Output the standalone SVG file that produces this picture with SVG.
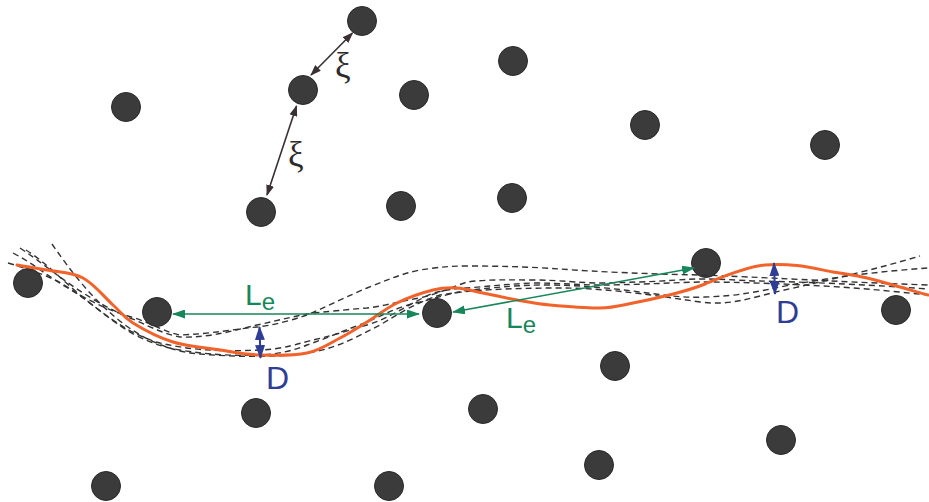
<svg xmlns="http://www.w3.org/2000/svg" width="929" height="502" viewBox="0 0 929 502">
<style>
.dot{fill:#3c3b3c;stroke:#2a2929;stroke-width:1}
.dash{fill:none;stroke:#333;stroke-width:1.4;stroke-dasharray:6 4}
.orange{fill:none;stroke:#f1632a;stroke-width:3;stroke-linejoin:round;stroke-linecap:round}
.green{fill:none;stroke:#17875b;stroke-width:1.6}
.blue{fill:none;stroke:#2f3d94;stroke-width:2}
.xi{fill:none;stroke:#3a3034;stroke-width:1.6}
.lbl-g{fill:#17875b;font-family:"Liberation Sans",Arial,sans-serif}
.lbl-b{fill:#2f3d94;font-family:"Liberation Sans",Arial,sans-serif;font-size:32px}
.lbl-x{fill:#2e2a2c;font-family:"Liberation Serif","DejaVu Serif",serif;font-size:35px}
</style>
<defs>
<marker id="mg" viewBox="0 0 13 9" refX="12" refY="4.5" markerWidth="13" markerHeight="9" markerUnits="userSpaceOnUse" orient="auto-start-reverse"><path d="M0,0 L13,4.5 L0,9 z" fill="#17875b"/></marker>
<marker id="mb" viewBox="0 0 14 10" refX="13" refY="5" markerWidth="14" markerHeight="10" markerUnits="userSpaceOnUse" orient="auto-start-reverse"><path d="M0,0 L14,5 L0,10 z" fill="#2f3d94"/></marker>
<marker id="mx" viewBox="0 0 11 8" refX="10" refY="4" markerWidth="11" markerHeight="8" markerUnits="userSpaceOnUse" orient="auto-start-reverse"><path d="M0,0 L11,4 L0,8 z" fill="#3a3034"/></marker>
</defs>
<rect width="929" height="502" fill="#fff"/>

<g id="dots">
<g id="n1"><circle class="dot" cx="362" cy="21" r="14.5"/></g>
<g id="n2"><circle class="dot" cx="303" cy="90" r="14.5"/></g>
<g id="n3"><circle class="dot" cx="126" cy="107" r="14.5"/></g>
<g id="n4"><circle class="dot" cx="414" cy="95" r="14.5"/></g>
<g id="n5"><circle class="dot" cx="513" cy="61" r="14.5"/></g>
<g id="n6"><circle class="dot" cx="645" cy="125" r="14.5"/></g>
<g id="n7"><circle class="dot" cx="825" cy="145" r="14.5"/></g>
<g id="n8"><circle class="dot" cx="261" cy="212" r="14.5"/></g>
<g id="n9"><circle class="dot" cx="401" cy="206" r="14.5"/></g>
<g id="n10"><circle class="dot" cx="512" cy="198" r="14.5"/></g>
<g id="n11"><circle class="dot" cx="28" cy="283" r="14.5"/></g>
<g id="n12"><circle class="dot" cx="157" cy="312" r="14.5"/></g>
<g id="n13"><circle class="dot" cx="437" cy="313" r="14.5"/></g>
<g id="n14"><circle class="dot" cx="706" cy="263" r="14.5"/></g>
<g id="n15"><circle class="dot" cx="896" cy="310" r="14.5"/></g>
<g id="n16"><circle class="dot" cx="615" cy="366" r="14.5"/></g>
<g id="n17"><circle class="dot" cx="256" cy="413" r="14.5"/></g>
<g id="n18"><circle class="dot" cx="483" cy="409" r="14.5"/></g>
<g id="n19"><circle class="dot" cx="781" cy="440" r="14.5"/></g>
<g id="n20"><circle class="dot" cx="106" cy="486" r="14.5"/></g>
<g id="n21"><circle class="dot" cx="389" cy="486" r="14.5"/></g>
<g id="n22"><circle class="dot" cx="599" cy="465" r="14.5"/></g>
</g>

<g id="paths">
<path class="dash" d="M52,244 C70,270 92,300 125,325 C150,343 175,352 200,354 C235,357 280,358 313,352 C340,347 360,335 380,325 C400,313 415,303 440,295 C470,290 510,288 560,288 C600,288 640,293 700,302 C730,306 750,298 780,291 C830,280 880,268 920,256"/>
<path class="dash" d="M8,263 C25,268 40,273 55,280 C80,292 105,318 135,335 C155,345 168,348 180,350 C210,355 235,356 260,355 C280,354 295,350 307,345 C330,337 350,328 367,322 C385,314 400,306 420,302 C440,297 455,292 470,290 C500,287 520,285 545,285 C580,285 610,288 640,292 C670,296 685,298 705,297 C740,296 760,291 790,285 C840,276 885,271 928,268"/>
<path class="dash" d="M20,248 C35,258 45,266 60,277 C82,293 105,308 135,320 C152,328 168,335 180,337 C210,338 235,330 257,325 C280,320 295,316 313,313 C335,311 352,309 367,308 C385,306 400,301 420,298 C440,293 455,286 467,282 C490,279 510,280 533,280 C560,280 580,283 600,283 C620,283 630,282 640,282 C670,281 685,279 700,279 C730,279 745,281 760,281 C800,282 860,284 928,289"/>
<path class="dash" d="M13,253 C30,262 40,270 55,280 C78,295 105,310 135,318 C152,324 168,333 180,335 C210,334 235,329 257,327 C275,325 292,320 307,315 C330,305 350,295 367,288 C385,281 400,274 420,270 C440,267 450,266 467,266 C500,266 533,267 560,269 C600,272 650,274 700,275 C760,277 840,282 928,285"/>
<path class="dash" d="M26,250 C45,262 60,278 80,295 C105,315 130,335 160,343 C190,350 220,352 260,350 C285,349 300,343 313,340 C335,335 350,330 367,325 C390,318 405,306 433,293 C450,289 460,288 467,288 C490,286 510,284 533,283 C560,283 580,285 600,285 C630,285 665,283 700,282 C740,282 790,284 840,287 C870,289 900,292 928,295"/>
<path class="orange" d="M17,265 C22,265.8 36,267.8 47,270 C58,272.2 72,272.2 83,278 C94,283.8 104.7,297.5 113,305 C121.3,312.5 123,316.8 133,323 C143,329.2 158.5,337.5 173,342 C187.5,346.5 205.5,347.8 220,350 C234.5,352.2 245.5,354.5 260,355 C274.5,355.5 293.7,355.8 307,353 C320.3,350.2 330,343.2 340,338 C350,332.8 357.5,327.8 367,322 C376.5,316.2 386,308.3 397,303 C408,297.7 423,292.5 433,290 C443,287.5 448.7,287.5 457,288 C465.3,288.5 473,291 483,293 C493,295 505.8,298 517,300 C528.2,302 536.2,303.7 550,305 C563.8,306.3 586.2,308.3 600,308 C613.8,307.7 620.2,305.5 633,303 C645.8,300.5 665,296.2 677,293 C689,289.8 695,288 705,284 C720,278 745,267 765,265 C778,264 787,264.5 797,265.5 C808.7,266.6 821.3,269.8 833,272 C844.7,274.2 851.2,274.2 867,278 C882.8,281.8 917.8,292.2 928,295"/>
</g>

<g id="connectors">
<line class="xi" x1="352.5" y1="33" x2="311" y2="75" marker-start="url(#mx)" marker-end="url(#mx)"/>
<line class="xi" x1="296.5" y1="106" x2="267" y2="195" marker-start="url(#mx)" marker-end="url(#mx)"/>
<line class="green" x1="173" y1="314" x2="419" y2="314" marker-start="url(#mg)" marker-end="url(#mg)"/>
<line class="green" x1="453" y1="312" x2="694" y2="268" marker-start="url(#mg)" marker-end="url(#mg)"/>
<line class="blue" x1="259.5" y1="327" x2="260.5" y2="358" marker-start="url(#mb)" marker-end="url(#mb)"/>
<line class="blue" x1="774" y1="263" x2="775" y2="294" marker-start="url(#mb)" marker-end="url(#mb)"/>
</g>

<g id="labels">
<text class="lbl-x" x="335" y="77">ξ</text>
<text class="lbl-x" x="288" y="166">ξ</text>
<text class="lbl-g" x="245" y="305" font-size="30">L<tspan font-size="24" dy="5">e</tspan></text>
<text class="lbl-g" x="506" y="328" font-size="30">L<tspan font-size="24" dy="5">e</tspan></text>
<text class="lbl-b" x="266" y="389">D</text>
<text class="lbl-b" x="776" y="323">D</text>
</g>
</svg>
